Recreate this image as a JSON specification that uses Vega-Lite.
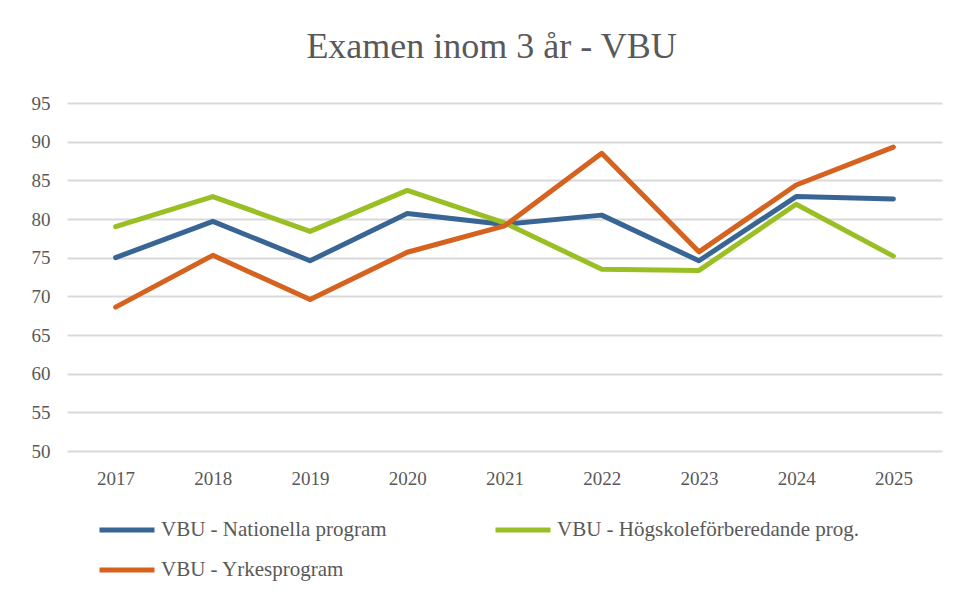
{
  "$schema": "https://vega.github.io/schema/vega-lite/v6.json",
  "autosize": "none",
  "width": 875,
  "height": 348,
  "padding": {"left": 67, "top": 103, "right": 16, "bottom": 150},
  "background": "white",
  "title": {
    "text": "Examen inom 3 år - VBU",
    "font": "Liberation Serif",
    "fontSize": 36,
    "fontWeight": "normal",
    "color": "#595959",
    "anchor": "middle",
    "offset": 28,
    "dx": -13
  },
  "data": {
    "values": [
      {"year": "2017", "serie": "VBU - Nationella program", "value": 75.0},
      {"year": "2018", "serie": "VBU - Nationella program", "value": 79.7},
      {"year": "2019", "serie": "VBU - Nationella program", "value": 74.6},
      {"year": "2020", "serie": "VBU - Nationella program", "value": 80.7},
      {"year": "2021", "serie": "VBU - Nationella program", "value": 79.3},
      {"year": "2022", "serie": "VBU - Nationella program", "value": 80.5},
      {"year": "2023", "serie": "VBU - Nationella program", "value": 74.6},
      {"year": "2024", "serie": "VBU - Nationella program", "value": 82.9},
      {"year": "2025", "serie": "VBU - Nationella program", "value": 82.6},
      {"year": "2017", "serie": "VBU - Högskoleförberedande prog.", "value": 79.0},
      {"year": "2018", "serie": "VBU - Högskoleförberedande prog.", "value": 82.9},
      {"year": "2019", "serie": "VBU - Högskoleförberedande prog.", "value": 78.4},
      {"year": "2020", "serie": "VBU - Högskoleförberedande prog.", "value": 83.7},
      {"year": "2021", "serie": "VBU - Högskoleförberedande prog.", "value": 79.5},
      {"year": "2022", "serie": "VBU - Högskoleförberedande prog.", "value": 73.5},
      {"year": "2023", "serie": "VBU - Högskoleförberedande prog.", "value": 73.35},
      {"year": "2024", "serie": "VBU - Högskoleförberedande prog.", "value": 81.9},
      {"year": "2025", "serie": "VBU - Högskoleförberedande prog.", "value": 75.2},
      {"year": "2017", "serie": "VBU - Yrkesprogram", "value": 68.6},
      {"year": "2018", "serie": "VBU - Yrkesprogram", "value": 75.3},
      {"year": "2019", "serie": "VBU - Yrkesprogram", "value": 69.6},
      {"year": "2020", "serie": "VBU - Yrkesprogram", "value": 75.7},
      {"year": "2021", "serie": "VBU - Yrkesprogram", "value": 79.1},
      {"year": "2022", "serie": "VBU - Yrkesprogram", "value": 88.5},
      {"year": "2023", "serie": "VBU - Yrkesprogram", "value": 75.75},
      {"year": "2024", "serie": "VBU - Yrkesprogram", "value": 84.4},
      {"year": "2025", "serie": "VBU - Yrkesprogram", "value": 89.3}
    ]
  },
  "mark": {"type": "line", "strokeWidth": 5, "strokeCap": "round", "strokeJoin": "round"},
  "encoding": {
    "x": {
      "field": "year",
      "type": "ordinal",
      "scale": {"type": "point", "padding": 0.5},
      "axis": {
        "title": null,
        "labelAngle": 0,
        "domain": false,
        "ticks": false,
        "labelPadding": 18
      }
    },
    "y": {
      "field": "value",
      "type": "quantitative",
      "scale": {"domain": [50, 95], "nice": false, "zero": false},
      "axis": {
        "title": null,
        "values": [50, 55, 60, 65, 70, 75, 80, 85, 90, 95],
        "domain": false,
        "ticks": false,
        "labelPadding": 17,
        "gridColor": "#d9d9d9",
        "gridWidth": 2
      }
    },
    "color": {
      "field": "serie",
      "type": "nominal",
      "scale": {
        "domain": ["VBU - Nationella program", "VBU - Högskoleförberedande prog.", "VBU - Yrkesprogram"],
        "range": ["#386594", "#9ABF25", "#D5621E"]
      },
      "legend": {
        "title": null,
        "orient": "none",
        "legendX": 30,
        "legendY": 397,
        "direction": "horizontal",
        "columns": 2,
        "columnPadding": 98,
        "rowPadding": -11,
        "symbolType": "stroke",
        "symbolSize": 3025,
        "symbolStrokeWidth": 5,
        "labelFont": "Liberation Serif",
        "labelFontSize": 21,
        "labelColor": "#595959",
        "labelOffset": 4,
        "labelLimit": 400
      }
    }
  },
  "config": {
    "view": {"stroke": null},
    "axis": {"labelFont": "Liberation Serif", "labelFontSize": 19, "labelColor": "#595959"}
  }
}
